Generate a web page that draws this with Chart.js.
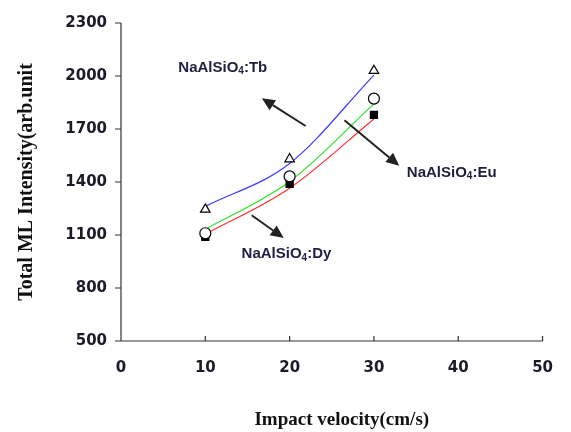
<!DOCTYPE html>
<html>
<head>
<meta charset="utf-8">
<script src="https://cdn.jsdelivr.net/npm/chart.js@4/dist/chart.umd.min.js"></script>
<style>
  html, body { margin: 0; padding: 0; background: #fff; }
  #wrap { width: 571px; height: 432px; }
</style>
</head>
<body>
<div id="wrap"><canvas id="mlChart" width="571" height="432"></canvas></div>
<script>
// impact velocity (cm/s)
const velocity = [10, 20, 30];
// measured points
const tbPoints = [1245, 1530, 2030];
const euPoints = [1110, 1432, 1872];
const dyPoints = [1090, 1390, 1780];
// fitted curves
const tbCurve = [1262, 1505, 2005];
const euCurve = [1132, 1403, 1842];
const dyCurve = [1105, 1365, 1757];

const xTicks = [0, 10, 20, 30, 40, 50];
const yTicks = [500, 800, 1100, 1400, 1700, 2000, 2300];

// labels with arrows, in data units
const notes = [
    { name: 'Tb', text: [6.8, 2048], tail: [21.9, 1717], head: [16.7, 1874] },
    { name: 'Eu', text: [33.9, 1453], tail: [26.5, 1750], head: [33.0, 1492] },
    { name: 'Dy', text: [14.3, 993], tail: [15.5, 1212], head: [19.3, 1083] }
];

const toXY = (xs, ys) => xs.map((x, i) => ({ x: x, y: ys[i] }));

function curve(data, color) {
    return {
        type: 'line',
        data: toXY(velocity, data),
        borderColor: color,
        borderWidth: 1.2,
        pointRadius: 0,
        cubicInterpolationMode: 'monotone',
        fill: false,
        order: 5
    };
}

function marks(data, style, fill, radius, order) {
    return {
        type: 'scatter',
        data: toXY(velocity, data),
        showLine: false,
        pointStyle: style,
        pointRadius: radius,
        pointBackgroundColor: fill,
        pointBorderColor: '#000',
        pointBorderWidth: 1.2,
        order: order
    };
}

const tickPlugin = {
    id: 'ticks',
    afterDraw(chart) {
        const c = chart.ctx;
        const xs = chart.scales.x, ys = chart.scales.y;
        const a = chart.chartArea;
        c.save();
        c.strokeStyle = '#333';
        c.lineWidth = 1.2;
        c.beginPath();
        c.moveTo(a.left, a.top);
        c.lineTo(a.left, a.bottom);
        c.lineTo(a.right, a.bottom);
        xTicks.forEach(v => {
            const px = xs.getPixelForValue(v);
            c.moveTo(px, a.bottom);
            c.lineTo(px, a.bottom - 5);
        });
        yTicks.forEach(v => {
            const py = ys.getPixelForValue(v);
            c.moveTo(a.left, py);
            c.lineTo(a.left - 6, py);
        });
        c.moveTo(a.left + 5, a.bottom);
        c.lineTo(a.left, a.bottom);
        c.stroke();

        // x axis title, sits a little right of centre in the original
        c.fillStyle = '#111';
        c.font = 'bold 19px "Liberation Serif", "Times New Roman", serif';
        c.textAlign = 'center';
        c.textBaseline = 'middle';
        c.fillText('Impact velocity(cm/s)', (a.left + a.right) / 2 + 10, 420);
        c.restore();
    }
};

const notePlugin = {
    id: 'notes',
    afterDraw(chart) {
        const c = chart.ctx;
        const xs = chart.scales.x, ys = chart.scales.y;
        c.save();
        notes.forEach(n => {
            const tx = xs.getPixelForValue(n.tail[0]), ty = ys.getPixelForValue(n.tail[1]);
            const hx = xs.getPixelForValue(n.head[0]), hy = ys.getPixelForValue(n.head[1]);
            const ang = Math.atan2(hy - ty, hx - tx);
            const len = 13;
            const bx = hx - len * Math.cos(ang), by = hy - len * Math.sin(ang);
            c.strokeStyle = '#222';
            c.fillStyle = '#222';
            c.lineWidth = 2;
            c.beginPath();
            c.moveTo(tx, ty);
            c.lineTo(bx, by);
            c.stroke();
            c.beginPath();
            c.moveTo(hx, hy);
            c.lineTo(bx + 6 * Math.sin(ang), by - 6 * Math.cos(ang));
            c.lineTo(bx - 6 * Math.sin(ang), by + 6 * Math.cos(ang));
            c.closePath();
            c.fill();

            // label with subscript 4
            let x = xs.getPixelForValue(n.text[0]);
            const y = ys.getPixelForValue(n.text[1]);
            c.fillStyle = '#1e1e40';
            c.textBaseline = 'middle';
            c.textAlign = 'left';
            c.font = 'bold 15px "Liberation Sans", Arial, sans-serif';
            c.fillText('NaAlSiO', x, y);
            x += c.measureText('NaAlSiO').width;
            c.font = 'bold 10px "Liberation Sans", Arial, sans-serif';
            c.fillText('4', x, y + 4);
            x += c.measureText('4').width;
            c.font = 'bold 15px "Liberation Sans", Arial, sans-serif';
            c.fillText(':' + n.name, x, y);
        });
        c.restore();
    }
};

const tickFont = { family: '"DejaVu Sans", Verdana, sans-serif', size: 15, weight: 'bold' };
const titleFont = { family: '"Liberation Serif", "Times New Roman", serif', size: 20, weight: 'bold' };

new Chart(document.getElementById('mlChart'), {
    data: {
        datasets: [
            curve(tbCurve, '#3a3aff'),
            curve(euCurve, '#2ee02e'),
            curve(dyCurve, '#ff3030'),
            marks(tbPoints, 'triangle', '#fff', 5.5, 0),
            marks(euPoints, 'circle', '#fff', 5.5, 1),
            marks(dyPoints, 'rect', '#000', 5, 2)
        ]
    },
    options: {
        responsive: false,
        animation: false,
        layout: { padding: { top: 20, right: 18, left: 0, bottom: 0 } },
        plugins: { legend: { display: false }, tooltip: { enabled: false } },
        scales: {
            x: {
                type: 'linear',
                min: 0, max: 50,
                afterBuildTicks: s => { s.ticks = xTicks.map(v => ({ value: v })); },
                afterFit: s => { s.height = 91; },
                grid: { display: false, drawTicks: false },
                border: { display: false },
                ticks: { color: '#1a1a2a', font: tickFont, padding: 18 },
                title: { display: false }
            },
            y: {
                min: 500, max: 2300,
                afterBuildTicks: s => { s.ticks = yTicks.map(v => ({ value: v })); },
                afterFit: s => { s.width = 121; },
                grid: { display: false, drawTicks: false },
                border: { display: false },
                ticks: { color: '#1a1a2a', font: tickFont, padding: 14, callback: v => String(v) },
                title: { display: true, text: 'Total ML Intensity(arb.unit', color: '#111', font: titleFont, padding: { top: 15, bottom: 15 } }
            }
        }
    },
    plugins: [tickPlugin, notePlugin]
});
</script>
</body>
</html>
